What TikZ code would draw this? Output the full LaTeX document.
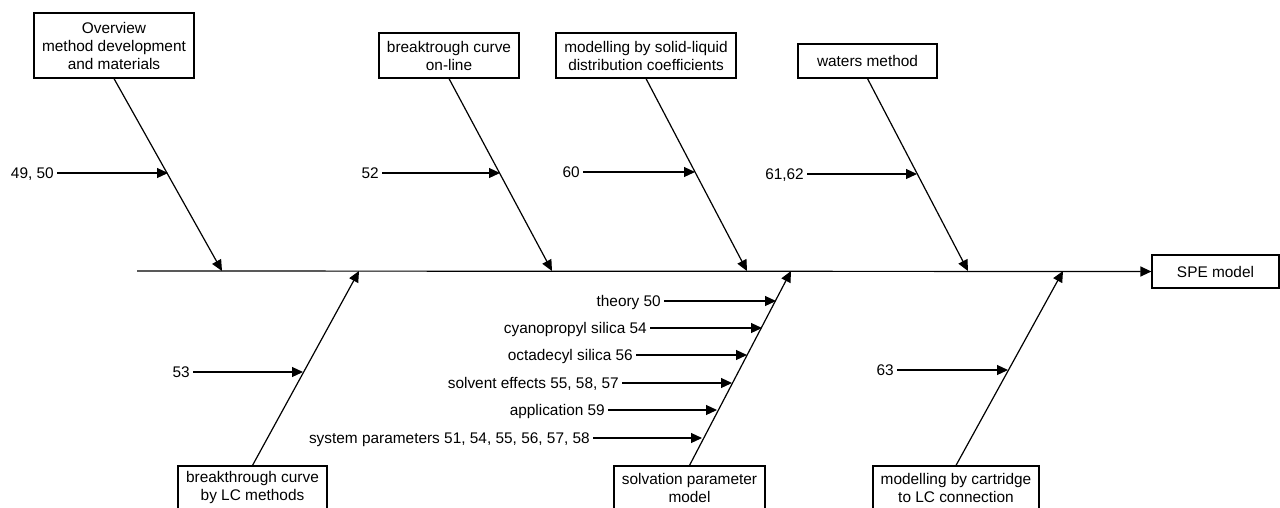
\documentclass[tikz,border=0pt]{standalone}
\usepackage{fontspec}
\setmainfont{Liberation Sans}
\usetikzlibrary{arrows.meta}
\begin{document}
\begin{tikzpicture}[x=1pt,y=-1pt,
  font=\fontsize{15.4}{18}\selectfont,
  box/.style={draw,line width=1.2pt,align=center,inner sep=0pt},
  lab/.style={inner xsep=3pt,inner ysep=0pt,text height=11pt,text depth=0pt,anchor=east},
  arr/.style={line width=1.2pt,-{Triangle[length=11pt,width=10pt]}}]
\useasboundingbox (0,0) rectangle (1280,507);
\clip (0,0) rectangle (1280,507);
% boxes
\node[box,minimum width=160pt,minimum height=65pt] (ov) at (114,45.5) {Overview\\method development\\and materials};
\node[box,minimum width=140pt,minimum height=45pt] (bo) at (449,55.5) {breaktrough curve\\on-line};
\node[box,minimum width=180pt,minimum height=45pt] (sl) at (646,55.5) {modelling by solid-liquid\\distribution coefficients};
\node[box,minimum width=139pt,minimum height=34pt] (wm) at (867.5,61) {waters method};
\node[box,minimum width=127pt,minimum height=33pt] (spe) at (1215.5,271.5) {SPE model};
\node[box,minimum width=149pt,minimum height=44pt] (lc) at (252.5,488) {breakthrough curve\\by LC methods};
\node[box,minimum width=151pt,minimum height=44pt] (sp) at (689.5,488) {solvation parameter\\model};
\node[box,minimum width=166pt,minimum height=44pt] (ct) at (956,488) {modelling by cartridge\\to LC connection};
% spine
\coordinate (s0) at (137,271);
\coordinate (t1) at (222,271);
\coordinate (t2) at (552,271);
\coordinate (t3) at (747,271);
\coordinate (t4) at (968,271);
\coordinate (b1) at (359,271);
\coordinate (b2) at (791,271);
\coordinate (b3) at (1063,271);
\draw[arr] (s0) -- (spe.west);
% branches
\draw[arr] (ov.south) -- (t1);
\draw[arr] (bo.south) -- (t2);
\draw[arr] (sl.south) -- (t3);
\draw[arr] (wm.south) -- (t4);
\draw[arr] (lc.north) -- (b1);
\draw[arr] (sp.north) -- (b2);
\draw[arr] (ct.north) -- (b3);
% sub-causes top
\node[lab] (l1) at (57,173) {49, 50};
\coordinate (p1) at (168,173);
\draw[arr] (l1.east) -- (p1);
\node[lab] (l2) at (382,173) {52};
\coordinate (p2) at (500,173);
\draw[arr] (l2.east) -- (p2);
\node[lab] (l3) at (583,172) {60};
\coordinate (p3) at (695,172);
\draw[arr] (l3.east) -- (p3);
\node[lab] (l4) at (807,174) {61,62};
\coordinate (p4) at (917,174);
\draw[arr] (l4.east) -- (p4);
% sub-causes bottom
\node[lab] (l5) at (193,372) {53};
\coordinate (p5) at (303,372);
\draw[arr] (l5.east) -- (p5);
\node[lab] (l6) at (897,370) {63};
\coordinate (p6) at (1008,370);
\draw[arr] (l6.east) -- (p6);
% solvation parameter model sub-causes
\node[lab] (m1) at (664,301) {theory 50};
\coordinate (q1) at (776,301);
\draw[arr] (m1.east) -- (q1);
\node[lab] (m2) at (650,328) {cyanopropyl silica 54};
\coordinate (q2) at (762,328);
\draw[arr] (m2.east) -- (q2);
\node[lab] (m3) at (636,355) {octadecyl silica 56};
\coordinate (q3) at (747,355);
\draw[arr] (m3.east) -- (q3);
\node[lab] (m4) at (622,383) {solvent effects 55, 58, 57};
\coordinate (q4) at (732,383);
\draw[arr] (m4.east) -- (q4);
\node[lab] (m5) at (608,410) {application 59};
\coordinate (q5) at (717,410);
\draw[arr] (m5.east) -- (q5);
\node[lab] (m6) at (593,438) {system parameters 51, 54, 55, 56, 57, 58};
\coordinate (q6) at (702,438);
\draw[arr] (m6.east) -- (q6);
\end{tikzpicture}
\end{document}
